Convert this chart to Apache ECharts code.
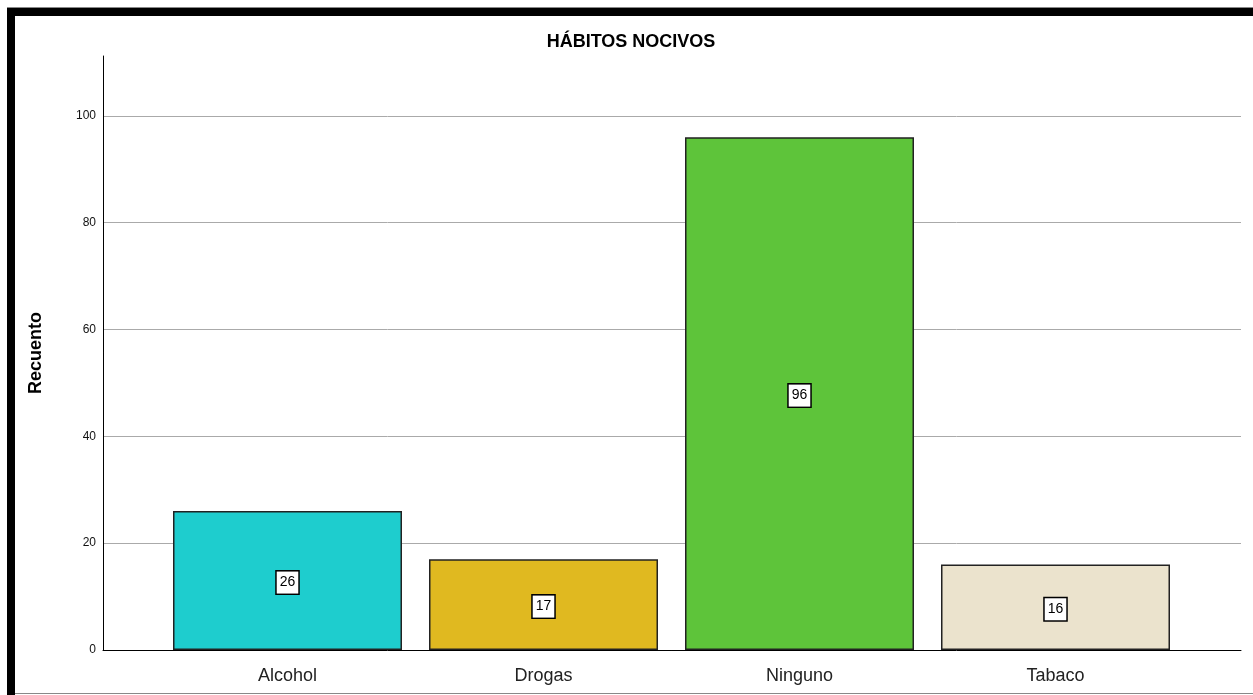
<!DOCTYPE html>
<html>
<head>
<meta charset="utf-8">
<script src="https://cdn.jsdelivr.net/npm/echarts@6/dist/echarts.min.js"></script>
<style>
  html, body { margin: 0; padding: 0; background: #ffffff; }
  #chart { width: 1253px; height: 695px; }
</style>
</head>
<body>
<div id="chart"></div>
<script>
// Habit categories and their counts
const categories = ['Alcohol', 'Drogas', 'Ninguno', 'Tabaco'];
const counts = [26, 17, 96, 16];
const barColors = ['#1ecdce', '#e0b920', '#5ec43a', '#ebe3cd'];
const yTicks = [0, 20, 40, 60, 80, 100];

const chartTitle = 'HÁBITOS NOCIVOS';
const yTitle = 'Recuento';

const Y_MAX = 111.2;
const FONT = '"Liberation Sans", Arial, sans-serif';

const chart = echarts.init(document.getElementById('chart'), null, { renderer: 'canvas' });

chart.setOption({
  animation: false,
  backgroundColor: '#ffffff',
  title: {
    text: chartTitle,
    left: 626,
    textAlign: 'center',
    top: 28,
    textStyle: { fontFamily: FONT, fontSize: 18, fontWeight: 'bold', color: '#000' }
  },
  graphic: [
    { type: 'rect', shape: { x: 7, y: 7, width: 1246, height: 1 }, style: { fill: '#888' }, silent: true },
    { type: 'rect', shape: { x: 7, y: 8, width: 1246, height: 8 }, style: { fill: '#000' }, silent: true },
    { type: 'rect', shape: { x: 7, y: 8, width: 8, height: 687 }, style: { fill: '#000' }, silent: true },
    { type: 'rect', shape: { x: 15, y: 693, width: 1238, height: 1 }, style: { fill: '#888' }, silent: true }
  ],
  grid: [
    // frame grid: axis lines and gridlines span the full plot
    { left: 103, right: 12, top: 56, bottom: 45 },
    // bar grid: category bands inset from the axis line
    { left: 159.5, width: 1024, top: 56, bottom: 45 }
  ],
  xAxis: [
    {
      gridIndex: 0, type: 'value', min: 0, max: 1,
      axisLine: { show: true, onZero: false, lineStyle: { color: '#000', width: 1 } },
      axisTick: { show: false }, axisLabel: { show: false }, splitLine: { show: false }
    },
    {
      gridIndex: 1, type: 'category', data: categories, boundaryGap: true,
      axisLine: { show: false }, axisTick: { show: false },
      axisLabel: { fontFamily: FONT, fontSize: 18, color: '#222', margin: 17 }
    }
  ],
  yAxis: [
    {
      gridIndex: 0, type: 'value', min: 0, max: Y_MAX, interval: 20,
      name: yTitle, nameLocation: 'middle', nameGap: 58, nameRotate: 90,
      nameTextStyle: { fontFamily: FONT, fontSize: 18, fontWeight: 'bold', color: '#000' },
      axisLine: { show: true, lineStyle: { color: '#000', width: 1 } },
      axisTick: { show: false },
      axisLabel: {
        fontFamily: FONT, fontSize: 12, color: '#111', margin: 7,
        padding: [6, 0, 0, 0],
        showMaxLabel: false,
        formatter: v => (yTicks.includes(v) ? String(v) : '')
      },
      splitLine: { show: true, showMinLine: false, showMaxLine: false, lineStyle: { color: '#aaaaaa', width: 1 } }
    },
    {
      gridIndex: 1, type: 'value', min: 0, max: Y_MAX, interval: 20, show: false,
      splitLine: { show: false }
    }
  ],
  series: [{
    type: 'bar',
    xAxisIndex: 1,
    yAxisIndex: 1,
    barWidth: 229,
    data: counts.map((v, i) => ({ value: v, itemStyle: { color: barColors[i] } })),
    itemStyle: { borderColor: '#222', borderWidth: 1.5 },
    label: {
      show: true,
      position: 'inside',
      offset: [0, 2],
      fontFamily: FONT,
      fontSize: 14,
      color: '#000',
      backgroundColor: '#fff',
      borderColor: '#000',
      borderWidth: 1.5,
      padding: [5, 3, 3, 3]
    }
  }]
});
</script>
</body>
</html>
